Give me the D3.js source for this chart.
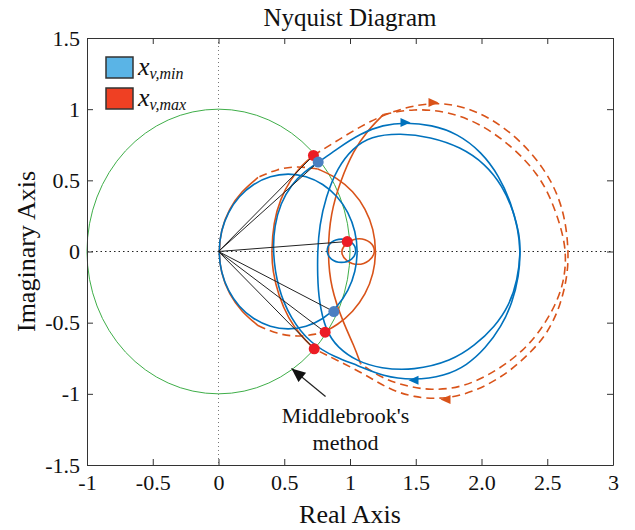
<!DOCTYPE html>
<html>
<head>
<meta charset="utf-8">
<script src="https://cdn.jsdelivr.net/npm/d3@7"></script>
<style>
  body { margin: 0; background: #fff; }
  svg text { font-family: "Times New Roman", "Liberation Serif", Times, "DejaVu Serif", serif; fill: #111; }
</style>
</head>
<body>
<div id="main_view"></div>
<script>
// axis ticks
var xTicks = [-1, -0.5, 0, 0.5, 1, 1.5, 2, 2.5, 3];
var xTickLabels = ["-1", "-0.5", "0", "0.5", "1", "1.5", "2.0", "2.5", "3"];
var yTicks = [1.5, 1, 0.5, 0, -0.5, -1, -1.5];
var yTickLabels = ["1.5", "1", "0.5", "0", "-0.5", "-1", "-1.5"];

// Middlebrook unit circle
var unitRadius = 1;

// x_v,min curves (blue), [real, imag]
var blueSmallCircle = [[1.06,0],[1.042,0.142],[0.989,0.275],[0.905,0.389],[0.795,0.476],[0.667,0.531],[0.53,0.55],[0.393,0.531],[0.265,0.476],[0.155,0.389],[0.071,0.275],[0.018,0.142],[0,0],[0.018,-0.142],[0.071,-0.275],[0.155,-0.389],[0.265,-0.476],[0.393,-0.531],[0.53,-0.55],[0.667,-0.531],[0.795,-0.476],[0.905,-0.389],[0.989,-0.275],[1.042,-0.142]];
var blueOuter = [[0.411,0],[0.426,0.183],[0.471,0.337],[0.555,0.471],[0.654,0.562],[0.76,0.625],[0.905,0.724],[1.08,0.83],[1.25,0.89],[1.422,0.906],[1.62,0.89],[1.817,0.829],[2.0,0.7],[2.135,0.53],[2.225,0.34],[2.278,0.16],[2.297,0],[2.285,-0.17],[2.235,-0.36],[2.15,-0.53],[2.03,-0.68],[1.89,-0.8],[1.72,-0.875],[1.483,-0.905],[1.25,-0.878],[1.06,-0.8],[0.89,-0.745],[0.7,-0.647],[0.548,-0.471],[0.449,-0.253]];
var blueInner = [[0.753,0],[0.768,0.183],[0.814,0.379],[0.905,0.59],[1.019,0.724],[1.156,0.81],[1.384,0.832],[1.612,0.805],[1.84,0.735],[2.03,0.615],[2.16,0.46],[2.245,0.28],[2.288,0.12],[2.297,0],[2.275,-0.2],[2.21,-0.38],[2.1,-0.53],[1.95,-0.66],[1.77,-0.77],[1.483,-0.836],[1.232,-0.822],[1.057,-0.773],[0.905,-0.675],[0.814,-0.555],[0.763,-0.344],[0.753,-0.169]];
var blueLoop = [[0.935,0.095],[1.02,0.07],[1.055,0.005],[1.02,-0.06],[0.935,-0.085],[0.85,-0.06],[0.815,0.005],[0.85,0.07]];
var blueArrows = [[1.422,0.906,1],[1.483,-0.905,-1]];
var blueDots = [[0.758,0.628],[0.877,-0.422]];

// x_v,max curves (orange), [real, imag]
var orangeCircleRight = [[0.805,-0.564],[0.9,-0.52],[1.024,-0.424],[1.12,-0.3],[1.18,-0.155],[1.2,0],[1.18,0.155],[1.12,0.3],[1.024,0.424],[0.9,0.52],[0.755,0.58]];
var orangeCircleTop = [[0.755,0.58],[0.6,0.6],[0.445,0.58],[0.3,0.52]];
var orangeCircleLeft = [[0.3,0.52],[0.176,0.424],[0.08,0.3],[0.02,0.155],[0,0],[0.02,-0.155],[0.08,-0.3],[0.176,-0.424],[0.3,-0.52]];
var orangeCircleBottom = [[0.3,-0.52],[0.445,-0.58],[0.6,-0.6],[0.755,-0.58],[0.805,-0.564]];
var orangeOuterSolid = [[0.728,-0.684],[0.624,-0.59],[0.532,-0.471],[0.456,-0.309],[0.411,-0.134],[0.403,0],[0.418,0.204],[0.471,0.372],[0.548,0.506],[0.631,0.604],[0.722,0.675]];
var orangeOuterDashed = [[0.722,0.675],[0.905,0.78],[1.156,0.922],[1.407,1.012],[1.635,1.047],[1.84,1.026],[2.068,0.942],[2.297,0.78],[2.471,0.59],[2.578,0.408],[2.639,0.218],[2.662,0],[2.654,-0.169],[2.601,-0.379],[2.502,-0.576],[2.373,-0.71],[2.198,-0.857],[1.97,-0.977],[1.726,-1.04],[1.483,-1.026],[1.285,-0.963],[1.103,-0.857],[0.905,-0.766],[0.728,-0.684]];
var orangeInnerSolid = [[1.08,-0.787],[1.03,-0.66],[0.951,-0.506],[0.852,-0.253],[0.829,0],[0.852,0.267],[0.928,0.499],[1.027,0.71],[1.133,0.85],[1.255,0.963]];
var orangeInnerDashed = [[1.255,0.963],[1.483,1.005],[1.741,0.984],[1.992,0.9],[2.243,0.731],[2.426,0.548],[2.525,0.379],[2.601,0.183],[2.646,0],[2.631,-0.204],[2.563,-0.379],[2.449,-0.555],[2.319,-0.696],[2.122,-0.836],[1.863,-0.956],[1.612,-0.977],[1.407,-0.942],[1.232,-0.885],[1.08,-0.787]];
var orangeLoop = [[1.07,0.1],[1.16,0.07],[1.2,0],[1.15,-0.07],[1.06,-0.1],[0.97,-0.07],[0.92,0],[0.98,0.07]];
var orangeArrows = [[1.635,1.047,1],[1.726,-1.04,-1]];
var redDots = [[0.722,0.675],[0.979,0.07],[0.811,-0.567],[0.728,-0.684]];

// annotation arrow (tail -> head)
var annoTail = [0.814, -1.019];
var annoHead = [0.555, -0.822];
var annoLines = ["Middlebrook's", "method"];

var legendItems = [
  {sub: "v,min", color: "#5ab4e6"},
  {sub: "v,max", color: "#ef4023"}
];

var blue = "#0072bd", orange = "#d95319";
var serif = "'Times New Roman', 'Liberation Serif', Times, 'DejaVu Serif', serif";

// set the dimensions and margins of the graph
var margin = {top: 38, right: 22, bottom: 65, left: 87},
    width = 635 - margin.left - margin.right,
    height = 530 - margin.top - margin.bottom;

var xScale = d3.scaleLinear().domain([-1, 3]).range([0, width]);
var yScale = d3.scaleLinear().domain([-1.5, 1.5]).range([height, 0]);

var svg = d3.select("#main_view").append("svg")
    .attr("width", width + margin.left + margin.right)
    .attr("height", height + margin.top + margin.bottom)
    .style("font-family", serif)
  .append("g")
    .attr("transform", "translate(" + margin.left + "," + margin.top + ")");

var plot = svg.append("g");

var line = d3.line()
    .x(function(d) { return xScale(d[0]); })
    .y(function(d) { return yScale(d[1]); })
    .curve(d3.curveBasis);

var loop = d3.line()
    .x(function(d) { return xScale(d[0]); })
    .y(function(d) { return yScale(d[1]); })
    .curve(d3.curveBasisClosed);

// zero lines
plot.append("line")
    .attr("x1", xScale(0)).attr("x2", xScale(0))
    .attr("y1", 0).attr("y2", height)
    .attr("stroke", "#777").attr("stroke-width", 1)
    .attr("stroke-dasharray", "1,3");
plot.append("line")
    .attr("x1", 0).attr("x2", width)
    .attr("y1", yScale(0)).attr("y2", yScale(0))
    .attr("stroke", "#222").attr("stroke-width", 1.2)
    .attr("stroke-dasharray", "1.5,3");

// unit circle
plot.append("ellipse")
    .attr("cx", xScale(0)).attr("cy", yScale(0))
    .attr("rx", xScale(unitRadius) - xScale(0))
    .attr("ry", yScale(0) - yScale(unitRadius))
    .attr("fill", "none")
    .attr("stroke", "#3fae49")
    .attr("stroke-width", 1);

function drawPath(data, gen, color, dash) {
  plot.append("path")
      .attr("d", gen(data))
      .attr("fill", "none")
      .attr("stroke", color)
      .attr("stroke-width", 1.6)
      .attr("stroke-dasharray", dash ? "8,5" : null);
}

// orange curves
drawPath(orangeCircleRight, line, orange, false);
drawPath(orangeCircleTop, line, orange, true);
drawPath(orangeCircleLeft, line, orange, false);
drawPath(orangeCircleBottom, line, orange, true);
drawPath(orangeOuterSolid, line, orange, false);
drawPath(orangeOuterDashed, line, orange, true);
drawPath(orangeInnerSolid, line, orange, false);
drawPath(orangeInnerDashed, line, orange, true);
drawPath(orangeLoop, loop, orange, false);

// blue curves
drawPath(blueSmallCircle, loop, blue, false);
drawPath(blueOuter, loop, blue, false);
drawPath(blueInner, loop, blue, false);
drawPath(blueLoop, loop, blue, false);

// direction arrows
function drawArrows(data, color) {
  plot.selectAll(null)
      .data(data)
    .enter().append("path")
      .attr("d", "M5,0 L-5,-4.5 L-5,4.5 Z")
      .attr("fill", color)
      .attr("transform", function(d) {
        return "translate(" + xScale(d[0]) + "," + yScale(d[1]) + ") scale(" + d[2] + ",1)";
      });
}
drawArrows(blueArrows, blue);
drawArrows(orangeArrows, orange);

// lines from origin to crossing points
plot.selectAll(null)
    .data(redDots.concat(blueDots))
  .enter().append("line")
    .attr("x1", xScale(0)).attr("y1", yScale(0))
    .attr("x2", function(d) { return xScale(d[0]); })
    .attr("y2", function(d) { return yScale(d[1]); })
    .attr("stroke", "#222")
    .attr("stroke-width", 1);

plot.selectAll(null)
    .data(redDots)
  .enter().append("circle")
    .attr("cx", function(d) { return xScale(d[0]); })
    .attr("cy", function(d) { return yScale(d[1]); })
    .attr("r", 5.5)
    .attr("fill", "#ec1c24");

plot.selectAll(null)
    .data(blueDots)
  .enter().append("circle")
    .attr("cx", function(d) { return xScale(d[0]); })
    .attr("cy", function(d) { return yScale(d[1]); })
    .attr("r", 5.5)
    .attr("fill", "#4a7fc1");

// annotation
var tx = xScale(annoTail[0]), ty = yScale(annoTail[1]);
var hx = xScale(annoHead[0]), hy = yScale(annoHead[1]);
var ang = Math.atan2(hy - ty, hx - tx) * 180 / Math.PI;
plot.append("line")
    .attr("x1", tx).attr("y1", ty)
    .attr("x2", hx).attr("y2", hy)
    .attr("stroke", "#222").attr("stroke-width", 1.2);
plot.append("path")
    .attr("d", "M0,0 L-14,-6 L-14,6 Z")
    .attr("fill", "#111")
    .attr("transform", "translate(" + hx + "," + hy + ") rotate(" + ang + ")");

plot.selectAll(null)
    .data(annoLines)
  .enter().append("text")
    .attr("x", tx + 20)
    .attr("y", function(d, i) { return ty + 26 + i * 27; })
    .attr("text-anchor", "middle")
    .style("font-family", serif)
    .style("font-size", "22px")
    .text(function(d) { return d; });

// axes
var axisColor = "#333";
function styleAxis(g) {
  g.attr("font-family", null);
  g.selectAll(".domain").attr("stroke", axisColor);
  g.selectAll(".tick line").attr("stroke", axisColor);
  g.selectAll("text")
      .style("font-size", "22px")
      .style("font-family", serif)
      .attr("fill", "#111");
}

svg.append("g")
    .attr("transform", "translate(0," + height + ")")
    .call(d3.axisBottom(xScale).tickValues(xTicks)
      .tickFormat(function(d, i) { return xTickLabels[i]; })
      .tickSizeInner(-6).tickSizeOuter(0).tickPadding(9))
    .call(styleAxis);

svg.append("g")
    .call(d3.axisTop(xScale).tickValues(xTicks).tickFormat("")
      .tickSizeInner(-6).tickSizeOuter(0))
    .call(styleAxis);

svg.append("g")
    .call(d3.axisLeft(yScale).tickValues(yTicks)
      .tickFormat(function(d, i) { return yTickLabels[i]; })
      .tickSizeInner(-6).tickSizeOuter(0).tickPadding(7))
    .call(styleAxis);

svg.append("g")
    .attr("transform", "translate(" + width + ",0)")
    .call(d3.axisRight(yScale).tickValues(yTicks).tickFormat("")
      .tickSizeInner(-6).tickSizeOuter(0))
    .call(styleAxis);

// titles
svg.append("text")
    .attr("x", width / 2)
    .attr("y", -12)
    .attr("text-anchor", "middle")
    .style("font-family", serif)
    .style("font-size", "25px")
    .text("Nyquist Diagram");

svg.append("text")
    .attr("x", width / 2)
    .attr("y", height + 58)
    .attr("text-anchor", "middle")
    .style("font-family", serif)
    .style("font-size", "26px")
    .text("Real Axis");

svg.append("text")
    .attr("transform", "translate(-52," + (height / 2) + ") rotate(-90)")
    .attr("text-anchor", "middle")
    .style("font-family", serif)
    .style("font-size", "26px")
    .text("Imaginary Axis");

// legend
var legend = svg.append("g").attr("transform", "translate(19,19)");
var item = legend.selectAll(null)
    .data(legendItems)
  .enter().append("g")
    .attr("transform", function(d, i) { return "translate(0," + (i * 31) + ")"; });
item.append("rect")
    .attr("width", 27).attr("height", 21)
    .attr("fill", function(d) { return d.color; })
    .attr("stroke", "#333").attr("stroke-width", 1.5);
var lt = item.append("text")
    .attr("x", 32).attr("y", 18)
    .style("font-family", serif)
    .style("font-style", "italic");
lt.append("tspan").style("font-size", "26px").text("x");
lt.append("tspan").attr("dy", 4).style("font-size", "16px").text(function(d) { return d.sub; });
</script>
</body>
</html>
